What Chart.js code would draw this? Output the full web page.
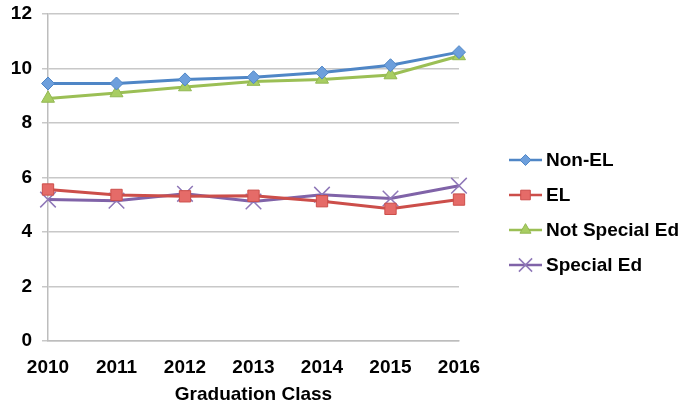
<!DOCTYPE html>
<html>
<head>
<meta charset="utf-8">
<script src="https://cdn.jsdelivr.net/npm/chart.js@4/dist/chart.umd.min.js"></script>
<style>
    html, body { margin: 0; padding: 0; background: #fff; }
    #wrap { width: 683px; height: 406px; }
</style>
</head>
<body>
<div id="wrap"><canvas id="myChart" width="683" height="406"></canvas></div>
<script>
const years = ['2010', '2011', '2012', '2013', '2014', '2015', '2016']
const nonEL = [9.45, 9.45, 9.6, 9.68, 9.85, 10.12, 10.6]
const el = [5.56, 5.36, 5.31, 5.33, 5.13, 4.85, 5.19]
const notSpecialEd = [8.9, 9.1, 9.32, 9.52, 9.6, 9.76, 10.46]
const specialEd = [5.19, 5.15, 5.4, 5.12, 5.37, 5.23, 5.7]
const yTicks = [0, 2, 4, 6, 8, 10, 12]

const font = { family: 'Liberation Sans, Arial, sans-serif', size: 19, weight: 'bold' }

// legend drawn by hand: line + marker + label, stacked on the right
const sideLegend = {
    id: 'sideLegend',
    afterDraw(chart) {
        const ctx = chart.ctx
        const x0 = 509, x1 = 542, tx = 546
        const rows = [160, 195, 230, 265]
        chart.data.datasets.forEach((ds, i) => {
            const y = rows[i]
            ctx.save()
            ctx.strokeStyle = ds.borderColor
            ctx.lineWidth = 2.5
            ctx.beginPath()
            ctx.moveTo(x0, y)
            ctx.lineTo(x1, y)
            ctx.stroke()
            ctx.fillStyle = ds.pointBackgroundColor
            ctx.strokeStyle = ds.pointBorderColor
            ctx.lineWidth = ds.pointBorderWidth
            Chart.helpers.drawPoint(ctx, { pointStyle: ds.pointStyle, radius: ds.pointRadius * 0.85, borderWidth: ds.pointBorderWidth }, (x0 + x1) / 2, y)
            ctx.fillStyle = '#000'
            ctx.font = `bold ${font.size}px ${font.family}`
            ctx.textBaseline = 'middle'
            ctx.fillText(ds.label, tx, y + 1)
            ctx.restore()
        })
    }
}

new Chart(document.getElementById('myChart'), {
    type: 'line',
    data: {
        labels: years,
        datasets: [
            { label: 'Non-EL', data: nonEL, borderColor: '#4f86c6', pointBackgroundColor: '#6d9fdc', pointBorderColor: '#4f86c6', pointStyle: 'rectRot', pointRadius: 6.5, pointBorderWidth: 1 },
            { label: 'EL', data: el, borderColor: '#cc4e4a', pointBackgroundColor: '#e56b68', pointBorderColor: '#cc4e4a', pointStyle: 'rect', pointRadius: 8, pointBorderWidth: 1 },
            { label: 'Not Special Ed', data: notSpecialEd, borderColor: '#9bbf55', pointBackgroundColor: '#a8cd62', pointBorderColor: '#93b852', pointStyle: 'triangle', pointRadius: 7.5, pointBorderWidth: 1 },
            { label: 'Special Ed', data: specialEd, borderColor: '#8063a8', pointBackgroundColor: '#8f78b8', pointBorderColor: '#8f78b8', pointStyle: 'crossRot', pointRadius: 11, pointBorderWidth: 1.5 }
        ]
    },
    options: {
        responsive: false,
        animation: false,
        devicePixelRatio: 1,
        layout: { padding: { left: 0, top: 14, right: 224, bottom: 0 } },
        elements: { line: { borderWidth: 3, tension: 0 } },
        plugins: {
            legend: { display: false },
            tooltip: { enabled: false }
        },
        scales: {
            x: {
                offset: false,
                grid: { display: false, drawOnChartArea: false, drawTicks: true, tickLength: 6, color: '#bdbdbd', lineWidth: 1.5 },
                border: { color: '#bdbdbd', width: 1.5 },
                ticks: { color: '#000', font: font, padding: 9, maxRotation: 0 },
                title: { display: true, text: 'Graduation Class', color: '#000', font: font, padding: { top: 4, bottom: 0 } },
                afterFit(scale) { scale.height = 65 }
            },
            y: {
                min: 0,
                max: 12,
                afterBuildTicks(scale) { scale.ticks = yTicks.map(v => ({ value: v })) },
                grid: { color: '#c8c8c8', lineWidth: 1.5, tickLength: 6 },
                border: { color: '#bdbdbd', width: 1.5 },
                ticks: { color: '#000', font: font, padding: 10 },
                afterFit(scale) {
                    scale.width = 48
                    scale.paddingTop = 0
                    scale.paddingBottom = 0
                }
            }
        }
    },
    plugins: [sideLegend]
})
</script>
</body>
</html>
